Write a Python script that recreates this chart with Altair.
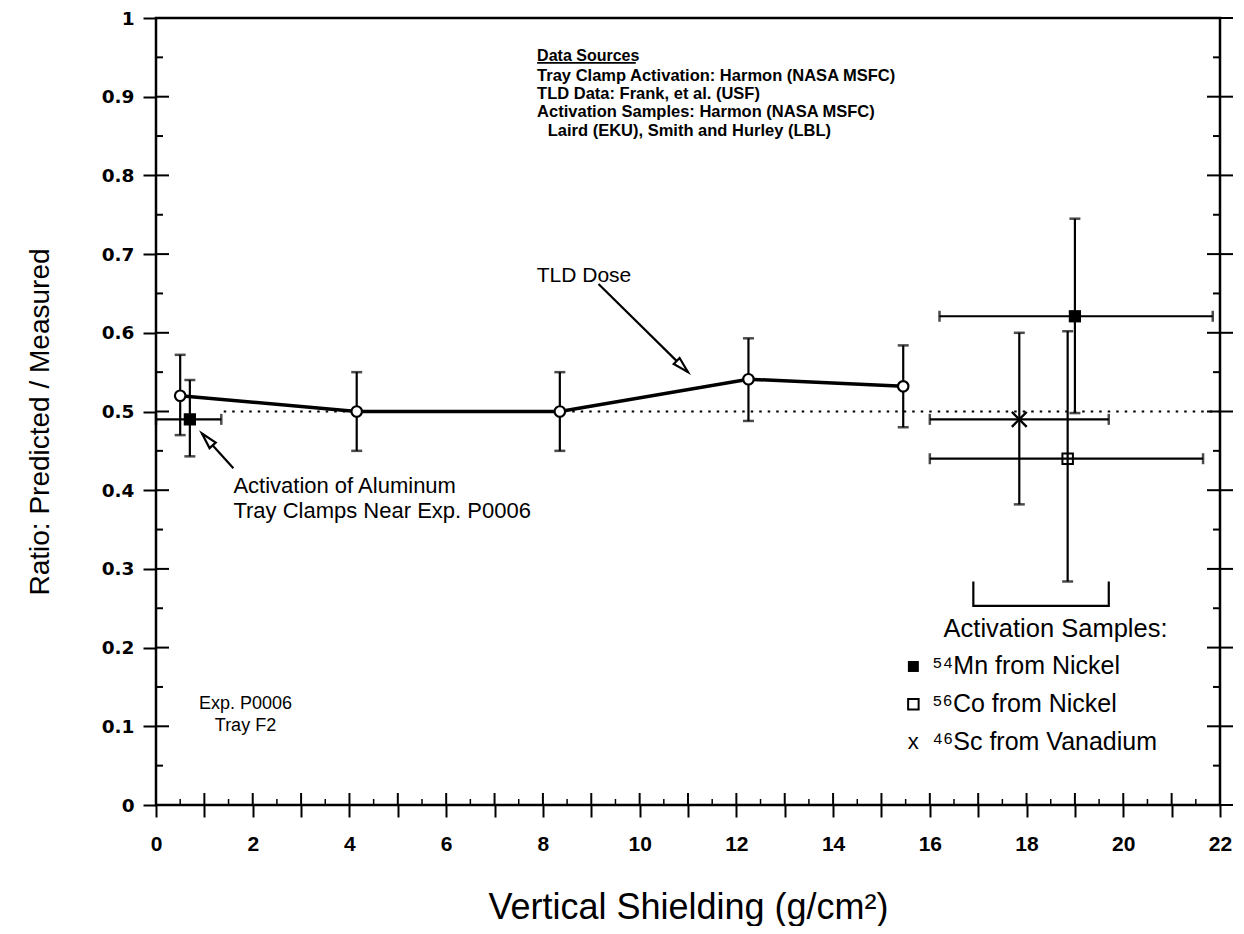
import math
import altair as alt
import pandas as pd

# ---------------- data ----------------
# TLD dose (open circles, solid line)
tld_x = [0.5, 4.15, 8.35, 12.25, 15.45]
tld_y = [0.52, 0.50, 0.50, 0.541, 0.532]
tld_lo = [0.47, 0.45, 0.45, 0.488, 0.48]
tld_hi = [0.572, 0.55, 0.55, 0.593, 0.584]

# Activation of aluminum tray clamps (filled square)
clamp_x = [0.7]
clamp_y = [0.49]
clamp_ylo = [0.443]
clamp_yhi = [0.54]
clamp_xlo = [0.0]
clamp_xhi = [1.35]

# Activation samples
samp_name = ["54Mn", "56Co", "46Sc"]
samp_x = [19.0, 18.85, 17.85]
samp_y = [0.621, 0.44, 0.49]
samp_ylo = [0.498, 0.284, 0.382]
samp_yhi = [0.745, 0.602, 0.60]
samp_xlo = [16.2, 16.0, 16.0]
samp_xhi = [21.85, 21.65, 19.7]

# reference line (ratio = 0.5)
ref_x = [1.4, 22.0]
ref_y = [0.5, 0.5]

# axis ticks
x_major = list(range(0, 23))
x_minor = [i + 0.5 for i in range(0, 22)]
y_major = [round(i * 0.1, 2) for i in range(0, 11)]
y_minor = [round(i * 0.1 + 0.05, 2) for i in range(0, 10)]

# annotations
src_title = "Data Sources"
src_lines = ["Tray Clamp Activation: Harmon (NASA MSFC)",
             "TLD Data: Frank, et al. (USF)",
             "Activation Samples: Harmon (NASA MSFC)",
             "Laird (EKU), Smith and Hurley (LBL)"]
src_x = [7.88, 7.88, 7.88, 8.1]
src_y = [0.926, 0.903, 0.88, 0.857]

clamp_lbl = ["Activation of Aluminum", "Tray Clamps Near Exp. P0006"]
clamp_lbl_x = [1.6, 1.6]
clamp_lbl_y = [0.405, 0.373]

exp_lbl = ["Exp. P0006", "Tray F2"]
exp_lbl_x = [1.85, 1.85]
exp_lbl_y = [0.128, 0.1]

legend_title = "Activation Samples:"
legend_labels = ["\u2075\u2074Mn from Nickel", "\u2075\u2076Co from Nickel", "\u2074\u2076Sc from Vanadium"]
legend_sym_x = 15.66
legend_txt_x = 16.05
legend_y = [0.176, 0.128, 0.08]

# arrows: tail -> tip
arrow_x = [9.15, 1.6]
arrow_y = [0.662, 0.428]
arrow_x2 = [11.0, 0.95]
arrow_y2 = [0.55, 0.472]

# bracket under the activation samples
br_x = [16.9, 19.7]
br_ylo = 0.253
br_yhi = 0.284

# ---------------- layout ----------------
W, H = 1064, 787
XMAX = 22.0
FONT = "Liberation Sans"

xs = alt.Scale(domain=[0, XMAX], nice=False, zero=False)
ys = alt.Scale(domain=[0, 1], nice=False)

def X(f, **kw):
    return alt.X(f, type="quantitative", scale=xs, **kw)

def Y(f, **kw):
    return alt.Y(f, type="quantitative", scale=ys, **kw)

# data frames
tld = pd.DataFrame({"x": tld_x, "y": tld_y})
vbars = pd.DataFrame({
    "x": tld_x + clamp_x + samp_x,
    "lo": tld_lo + clamp_ylo + samp_ylo,
    "hi": tld_hi + clamp_yhi + samp_yhi,
})
vcaps = pd.DataFrame({"x": list(vbars.x) * 2, "y": list(vbars.lo) + list(vbars.hi)})
hbars = pd.DataFrame({
    "y": clamp_y + samp_y,
    "lo": clamp_xlo + samp_xlo,
    "hi": clamp_xhi + samp_xhi,
})
hcaps = pd.DataFrame({"x": list(hbars.lo) + list(hbars.hi), "y": list(hbars.y) * 2})
filled_sq = pd.DataFrame({"x": clamp_x + [samp_x[0]], "y": clamp_y + [samp_y[0]]})
open_sq = pd.DataFrame({"x": [samp_x[1]], "y": [samp_y[1]]})
xmark = pd.DataFrame({"x": [samp_x[2]], "y": [samp_y[2]]})
ref = pd.DataFrame({"x": ref_x, "y": ref_y})

base_x_axis = alt.Axis(
    values=x_major,
    labelExpr="datum.value % 2 == 0 ? datum.label : ''",
    tickSize=12, tickWidth=2, tickColor="black",
    labelFont=FONT, labelFontSize=21, labelFontWeight="bold",
    labelColor="black", labelPadding=16, labelFlush=False, labelOverlap=False,
    domain=False, grid=False,
    title="Vertical Shielding (g/cm\u00b2)", titleFont=FONT, titleFontSize=36,
    titleFontWeight="normal", titleColor="black",
    titleX=W / 2, titleY=102, titleBaseline="middle", titleAlign="center",
)
base_y_axis = alt.Axis(
    values=y_major,
    labelExpr="format(datum.value, '.1~f')",
    tickSize=13, tickWidth=2, tickColor="black",
    labelFont="DejaVu Sans", labelFontSize=18.5, labelFontWeight="bold",
    labelColor="black", labelPadding=9, labelFlush=False, labelOverlap=False,
    domain=False, grid=False,
    title="Ratio: Predicted / Measured", titleFont=FONT, titleFontSize=28,
    titleFontWeight="normal", titleColor="black",
    titleX=-116, titleY=H / 2 + 10, titleAngle=-90, titleBaseline="middle", titleAlign="center",
)

layers = []

# axes carrier + TLD line
layers.append(
    alt.Chart(tld).mark_line(color="black", strokeWidth=3.5).encode(
        x=X("x", axis=base_x_axis), y=Y("y", axis=base_y_axis)
    )
)

# reference dotted line
layers.append(
    alt.Chart(ref).mark_line(color="black", strokeWidth=2, strokeDash=[2.5, 6]).encode(
        x=X("x"), y=Y("y")
    )
)

# error bars
layers.append(alt.Chart(vbars).mark_rule(color="black", strokeWidth=2.2).encode(
    x=X("x"), y=Y("lo"), y2="hi"))
layers.append(alt.Chart(vcaps).mark_tick(orient="horizontal", color="black", size=11, thickness=2.5).encode(
    x=X("x"), y=Y("y")))
layers.append(alt.Chart(hbars).mark_rule(color="black", strokeWidth=2.2).encode(
    y=Y("y"), x=X("lo"), x2="hi"))
layers.append(alt.Chart(hcaps).mark_tick(orient="vertical", color="black", size=11, thickness=2.5).encode(
    x=X("x"), y=Y("y")))

# markers
layers.append(alt.Chart(tld).mark_point(shape="circle", filled=True, fill="white", stroke="black",
                                         strokeWidth=2.2, size=110, opacity=1).encode(x=X("x"), y=Y("y")))
layers.append(alt.Chart(filled_sq).mark_point(shape="square", filled=True, color="black", size=150,
                                               opacity=1).encode(x=X("x"), y=Y("y")))
layers.append(alt.Chart(open_sq).mark_point(shape="square", filled=False, color="black", strokeWidth=2,
                                             size=110, opacity=1).encode(x=X("x"), y=Y("y")))
layers.append(alt.Chart(xmark).mark_point(shape="M-1,-1L1,1M-1,1L1,-1", filled=False, color="black",
                                           strokeWidth=2.4, size=220, opacity=1).encode(x=X("x"), y=Y("y")))

# inner / right-side ticks
ymaj = pd.DataFrame({"v": y_major})
ymin = pd.DataFrame({"v": y_minor})
xmaj = pd.DataFrame({"v": x_major})
xmin = pd.DataFrame({"v": x_minor})
layers.append(alt.Chart(ymaj).mark_rule(color="black", strokeWidth=2).encode(
    y=Y("v"), x=alt.value(0), x2=alt.value(13)))
layers.append(alt.Chart(ymin).mark_rule(color="black", strokeWidth=2).encode(
    y=Y("v"), x=alt.value(0), x2=alt.value(7)))
layers.append(alt.Chart(ymaj).mark_rule(color="black", strokeWidth=2).encode(
    y=Y("v"), x=alt.value(W - 13), x2=alt.value(W + 13)))
layers.append(alt.Chart(ymin).mark_rule(color="black", strokeWidth=2).encode(
    y=Y("v"), x=alt.value(W - 7), x2=alt.value(W)))
layers.append(alt.Chart(xmaj).mark_rule(color="black", strokeWidth=2).encode(
    x=X("v"), y=alt.value(H - 12), y2=alt.value(H)))
layers.append(alt.Chart(xmin).mark_rule(color="black", strokeWidth=1.5).encode(
    x=X("v"), y=alt.value(H - 6), y2=alt.value(H)))

# arrows
arr = pd.DataFrame({"x": arrow_x, "y": arrow_y, "x2": arrow_x2, "y2": arrow_y2})
ang = []
for x1, y1, x2, y2 in zip(arrow_x, arrow_y, arrow_x2, arrow_y2):
    dx = (x2 - x1) * W / XMAX
    dy = -(y2 - y1) * H
    a = math.degrees(math.atan2(dx, -dy)) % 360
    ang.append(a)
arr["ang"] = ang
layers.append(alt.Chart(arr).mark_rule(color="black", strokeWidth=2.2).encode(
    x=X("x"), y=Y("y"), x2="x2", y2="y2"))
layers.append(alt.Chart(arr).mark_point(shape="M0,0L0.55,2.1L-0.55,2.1Z", filled=True, fill="white",
                                         stroke="black", strokeWidth=2.2, size=230, opacity=1).encode(
    x=X("x2"), y=Y("y2"), angle=alt.Angle("ang:Q", scale=None)))

# bracket
brk = pd.DataFrame({"x": [br_x[0], br_x[0], br_x[1], br_x[1]],
                    "y": [br_yhi, br_ylo, br_ylo, br_yhi], "o": [0, 1, 2, 3]})
layers.append(alt.Chart(brk).mark_line(color="black", strokeWidth=2.2).encode(
    x=X("x"), y=Y("y"), order="o:O"))

# text annotations
def text_layer(df, size, align="left", weight="normal", font=FONT):
    return alt.Chart(df).mark_text(align=align, baseline="middle", fontSize=size, font=font,
                                   fontWeight=weight, color="black").encode(
        x=X("x"), y=Y("y"), text="t:N")

layers.append(text_layer(pd.DataFrame({"x": [7.88], "y": [0.952], "t": [src_title]}), 16, weight="bold"))
layers.append(alt.Chart(pd.DataFrame({"x": [7.88], "x2": [9.92], "y": [0.943]})).mark_rule(
    color="black", strokeWidth=1.6).encode(x=X("x"), x2="x2", y=Y("y")))
layers.append(text_layer(pd.DataFrame({"x": src_x, "y": src_y, "t": src_lines}), 16.5, weight="bold"))
layers.append(text_layer(pd.DataFrame({"x": [8.85], "y": [0.672], "t": ["TLD Dose"]}), 21, align="center"))
layers.append(text_layer(pd.DataFrame({"x": clamp_lbl_x, "y": clamp_lbl_y, "t": clamp_lbl}), 22))
layers.append(text_layer(pd.DataFrame({"x": exp_lbl_x, "y": exp_lbl_y, "t": exp_lbl}), 18, align="center"))
layers.append(text_layer(pd.DataFrame({"x": [18.6], "y": [0.224], "t": [legend_title]}), 25.5, align="center"))
layers.append(text_layer(pd.DataFrame({"x": [legend_txt_x] * 3, "y": legend_y, "t": legend_labels}), 25))

# legend symbols
layers.append(alt.Chart(pd.DataFrame({"x": [legend_sym_x], "y": [legend_y[0]]})).mark_point(
    shape="square", filled=True, color="black", size=120, opacity=1).encode(x=X("x"), y=Y("y")))
layers.append(alt.Chart(pd.DataFrame({"x": [legend_sym_x], "y": [legend_y[1]]})).mark_point(
    shape="square", filled=False, color="black", strokeWidth=2, size=110, opacity=1).encode(x=X("x"), y=Y("y")))
layers.append(text_layer(pd.DataFrame({"x": [legend_sym_x], "y": [legend_y[2]], "t": ["x"]}), 22, align="center"))

chart = alt.layer(*layers).properties(
    width=W, height=H,
    autosize=alt.AutoSizeParams(type="none"),
    padding={"left": 148, "top": 10, "right": 16, "bottom": 121},
    background="white",
).configure_view(stroke="black", strokeWidth=2.5)

chart.save("out.html", embed_options={"renderer": "svg", "actions": False})
